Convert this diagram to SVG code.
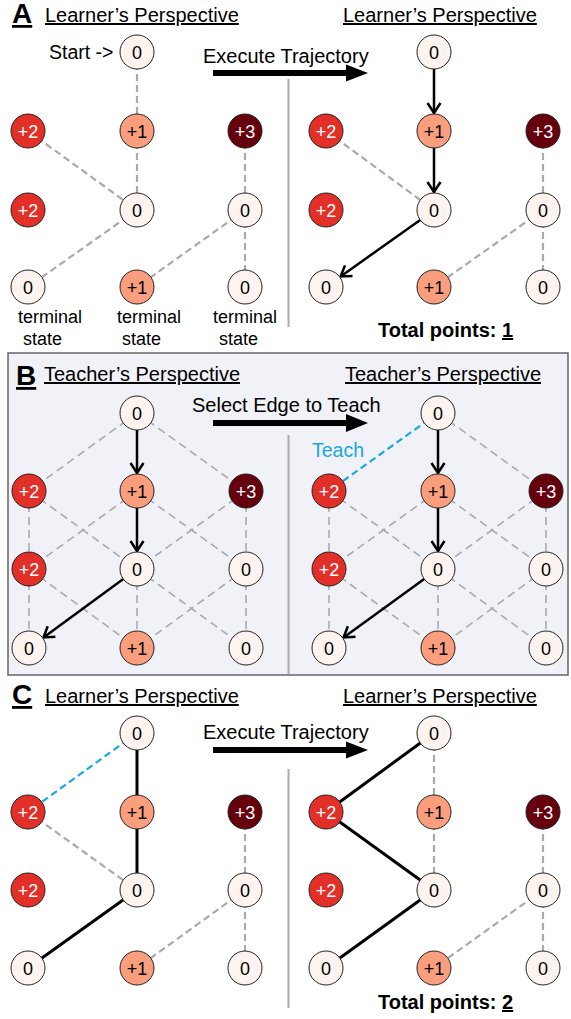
<svg xmlns="http://www.w3.org/2000/svg" width="571" height="1019" viewBox="0 0 571 1019">
<style>
.n0{fill:#fef4ef;stroke:#222;stroke-width:1}
.n1{fill:#fb9e7e;stroke:#222;stroke-width:1}
.n2{fill:#e22f28;stroke:#222;stroke-width:1}
.n3{fill:#67000d;stroke:#222;stroke-width:1}
.t{font-family:"Liberation Sans",Arial,sans-serif;font-size:18px;text-anchor:middle;fill:#000}
.w{font-family:"Liberation Sans",Arial,sans-serif;font-size:18px;text-anchor:middle;fill:#fff}
.hd{font-family:"Liberation Sans",Arial,sans-serif;font-size:20px;fill:#000;text-decoration:underline}
.let{font-family:"Liberation Sans",Arial,sans-serif;font-size:28px;font-weight:bold;fill:#000;text-decoration:underline}
.lbl{font-family:"Liberation Sans",Arial,sans-serif;font-size:20px;fill:#000}
.sm{font-family:"Liberation Sans",Arial,sans-serif;font-size:18px;fill:#000}
.tot{font-family:"Liberation Sans",Arial,sans-serif;font-size:20px;font-weight:bold;fill:#000}
.dg{stroke:#aaa;stroke-width:2.2;stroke-dasharray:7 4;fill:none}
.db{stroke:#aaa;stroke-width:1.6;stroke-dasharray:8 5;fill:none}
.bl{stroke:#1ba8e0;stroke-width:2.2;stroke-dasharray:7 4;fill:none}
.sl{stroke:#000;stroke-width:3;fill:none}
.ar{stroke:#000;stroke-width:2.5;fill:none;marker-end:url(#ah)}
.dv{stroke:#aaa;stroke-width:2;fill:none}
</style>
<defs>
<marker id="ah" markerUnits="userSpaceOnUse" markerWidth="16" markerHeight="18" viewBox="-13 -9 16 18" refX="0" refY="0" orient="auto">
<path d="M-10,-6.5 L0,0 L-10,6.5" fill="none" stroke="#000" stroke-width="2.5"/>
</marker>
</defs>

<rect id="panelB-box" x="8" y="353" width="560" height="322" fill="#f0f2f7" stroke="#666" stroke-width="1.5"/>

<!-- titles and labels -->
<g id="labels">
<text class="let" x="12" y="23">A</text>
<text class="hd" x="45" y="22">Learner’s Perspective</text>
<text class="hd" x="343" y="22">Learner’s Perspective</text>
<text class="lbl" x="49" y="59" style="font-size:19.5px">Start -&gt;</text>
<text class="lbl" x="203" y="63">Execute Trajectory</text>
<text class="sm" x="18" y="323">terminal</text>
<text class="sm" x="23" y="345">state</text>
<text class="sm" x="117" y="323">terminal</text>
<text class="sm" x="122" y="345">state</text>
<text class="sm" x="213" y="323">terminal</text>
<text class="sm" x="219" y="345">state</text>
<text class="tot" x="378" y="337">Total points: <tspan style="text-decoration:underline">1</tspan></text>

<text class="let" x="16" y="385">B</text>
<text class="hd" x="44" y="381">Teacher’s Perspective</text>
<text class="hd" x="345" y="381">Teacher’s Perspective</text>
<text class="lbl" x="192" y="412">Select Edge to Teach</text>
<text class="lbl" x="312" y="457" style="fill:#1ba8e0;font-size:19.5px">Teach</text>

<text class="let" x="12" y="704">C</text>
<text class="hd" x="45" y="703">Learner’s Perspective</text>
<text class="hd" x="343" y="703">Learner’s Perspective</text>
<text class="lbl" x="203" y="739">Execute Trajectory</text>
<text class="tot" x="378" y="1009">Total points: <tspan style="text-decoration:underline">2</tspan></text>
</g>

<g id="big-arrows">
<rect x="213" y="70" width="137" height="6" fill="#000"/>
<polygon points="346,64.5 368,73 346,81.5" fill="#000"/>
<rect x="213" y="420" width="137" height="6" fill="#000"/>
<polygon points="346,414 368,423 346,432" fill="#000"/>
<rect x="213" y="747" width="137" height="6" fill="#000"/>
<polygon points="346,741.5 368,750 346,758.5" fill="#000"/>
</g>

<g id="dividers">
<line class="dv" x1="288.5" y1="79" x2="288.5" y2="327"/>
<line class="dv" x1="288.5" y1="435" x2="288.5" y2="674"/>
<line class="dv" x1="288.5" y1="769" x2="288.5" y2="1008"/>
</g>

<g id="connectors">
<!-- A left -->
<line class="dg" x1="137" y1="52" x2="137" y2="131"/>
<line class="dg" x1="28" y1="131" x2="137" y2="210"/>
<line class="dg" x1="137" y1="131" x2="137" y2="210"/>
<line class="dg" x1="245" y1="131" x2="245" y2="210"/>
<line class="dg" x1="137" y1="210" x2="28" y2="287"/>
<line class="dg" x1="245" y1="210" x2="137" y2="287"/>
<line class="dg" x1="245" y1="210" x2="245" y2="287"/>
<!-- A right -->
<line class="dg" x1="326" y1="131" x2="434" y2="210"/>
<line class="dg" x1="543" y1="131" x2="543" y2="210"/>
<line class="dg" x1="543" y1="210" x2="434" y2="287"/>
<line class="dg" x1="543" y1="210" x2="543" y2="287"/>
<line class="ar" x1="434" y1="69" x2="434" y2="113"/>
<line class="ar" x1="434" y1="148" x2="434" y2="192"/>
<line class="ar" x1="420.2" y1="219.9" x2="340.6" y2="276.5"/>
<!-- B left -->
<line class="db" x1="137" y1="413" x2="29" y2="491"/>
<line class="db" x1="137" y1="413" x2="246" y2="491"/>
<line class="db" x1="29" y1="491" x2="29" y2="569"/>
<line class="db" x1="29" y1="491" x2="137" y2="569"/>
<line class="db" x1="137" y1="491" x2="29" y2="569"/>
<line class="db" x1="137" y1="491" x2="246" y2="569"/>
<line class="db" x1="246" y1="491" x2="137" y2="569"/>
<line class="db" x1="246" y1="491" x2="246" y2="569"/>
<line class="db" x1="29" y1="569" x2="29" y2="648"/>
<line class="db" x1="29" y1="569" x2="137" y2="648"/>
<line class="db" x1="137" y1="569" x2="137" y2="648"/>
<line class="db" x1="137" y1="569" x2="246" y2="648"/>
<line class="db" x1="246" y1="569" x2="137" y2="648"/>
<line class="db" x1="246" y1="569" x2="246" y2="648"/>
<line class="ar" x1="137" y1="430" x2="137" y2="473"/>
<line class="ar" x1="137" y1="508" x2="137" y2="551"/>
<line class="ar" x1="123.3" y1="579" x2="43.5" y2="637.4"/>
<!-- B right -->
<line class="bl" x1="438" y1="413" x2="329" y2="491"/>
<line class="db" x1="438" y1="413" x2="546" y2="491"/>
<line class="db" x1="329" y1="491" x2="329" y2="569"/>
<line class="db" x1="329" y1="491" x2="438" y2="569"/>
<line class="db" x1="438" y1="491" x2="329" y2="569"/>
<line class="db" x1="438" y1="491" x2="546" y2="569"/>
<line class="db" x1="546" y1="491" x2="438" y2="569"/>
<line class="db" x1="546" y1="491" x2="546" y2="569"/>
<line class="db" x1="329" y1="569" x2="329" y2="648"/>
<line class="db" x1="329" y1="569" x2="438" y2="648"/>
<line class="db" x1="438" y1="569" x2="438" y2="648"/>
<line class="db" x1="438" y1="569" x2="546" y2="648"/>
<line class="db" x1="546" y1="569" x2="438" y2="648"/>
<line class="db" x1="546" y1="569" x2="546" y2="648"/>
<line class="ar" x1="438" y1="430" x2="438" y2="473"/>
<line class="ar" x1="438" y1="508" x2="438" y2="551"/>
<line class="ar" x1="424.2" y1="579" x2="343.6" y2="637.4"/>
<!-- C left -->
<line class="bl" x1="137" y1="733" x2="28" y2="812"/>
<line class="dg" x1="28" y1="812" x2="137" y2="890"/>
<line class="dg" x1="245" y1="812" x2="245" y2="890"/>
<line class="dg" x1="245" y1="890" x2="137" y2="968"/>
<line class="dg" x1="245" y1="890" x2="245" y2="968"/>
<line class="sl" x1="137" y1="733" x2="137" y2="812"/>
<line class="sl" x1="137" y1="812" x2="137" y2="890"/>
<line class="sl" x1="137" y1="890" x2="28" y2="968"/>
<!-- C right -->
<line class="dg" x1="434" y1="733" x2="434" y2="812"/>
<line class="dg" x1="434" y1="812" x2="434" y2="890"/>
<line class="dg" x1="543" y1="812" x2="543" y2="890"/>
<line class="dg" x1="543" y1="890" x2="434" y2="968"/>
<line class="dg" x1="543" y1="890" x2="543" y2="968"/>
<line class="sl" x1="434" y1="733" x2="326" y2="812"/>
<line class="sl" x1="326" y1="812" x2="434" y2="890"/>
<line class="sl" x1="434" y1="890" x2="326" y2="968"/>
</g>

<!-- Panel A left nodes -->
<g id="AL-s"><circle class="n0" cx="137" cy="52" r="17"/><text class="t" x="137" y="58.5">0</text></g>
<g id="AL-r2a"><circle class="n2" cx="28" cy="131" r="17"/><text class="w" x="28" y="137.5">+2</text></g>
<g id="AL-r2b"><circle class="n1" cx="137" cy="131" r="17"/><text class="t" x="137" y="137.5">+1</text></g>
<g id="AL-r2c"><circle class="n3" cx="245" cy="131" r="17"/><text class="w" x="245" y="137.5">+3</text></g>
<g id="AL-r3a"><circle class="n2" cx="28" cy="210" r="17"/><text class="w" x="28" y="216.5">+2</text></g>
<g id="AL-r3b"><circle class="n0" cx="137" cy="210" r="17"/><text class="t" x="137" y="216.5">0</text></g>
<g id="AL-r3c"><circle class="n0" cx="245" cy="210" r="17"/><text class="t" x="245" y="216.5">0</text></g>
<g id="AL-r4a"><circle class="n0" cx="28" cy="287" r="17"/><text class="t" x="28" y="293.5">0</text></g>
<g id="AL-r4b"><circle class="n1" cx="137" cy="287" r="17"/><text class="t" x="137" y="293.5">+1</text></g>
<g id="AL-r4c"><circle class="n0" cx="245" cy="287" r="17"/><text class="t" x="245" y="293.5">0</text></g>

<!-- Panel A right nodes -->
<g id="AR-s"><circle class="n0" cx="434" cy="52" r="17"/><text class="t" x="434" y="58.5">0</text></g>
<g id="AR-r2a"><circle class="n2" cx="326" cy="131" r="17"/><text class="w" x="326" y="137.5">+2</text></g>
<g id="AR-r2b"><circle class="n1" cx="434" cy="131" r="17"/><text class="t" x="434" y="137.5">+1</text></g>
<g id="AR-r2c"><circle class="n3" cx="543" cy="131" r="17"/><text class="w" x="543" y="137.5">+3</text></g>
<g id="AR-r3a"><circle class="n2" cx="326" cy="210" r="17"/><text class="w" x="326" y="216.5">+2</text></g>
<g id="AR-r3b"><circle class="n0" cx="434" cy="210" r="17"/><text class="t" x="434" y="216.5">0</text></g>
<g id="AR-r3c"><circle class="n0" cx="543" cy="210" r="17"/><text class="t" x="543" y="216.5">0</text></g>
<g id="AR-r4a"><circle class="n0" cx="326" cy="287" r="17"/><text class="t" x="326" y="293.5">0</text></g>
<g id="AR-r4b"><circle class="n1" cx="434" cy="287" r="17"/><text class="t" x="434" y="293.5">+1</text></g>
<g id="AR-r4c"><circle class="n0" cx="543" cy="287" r="17"/><text class="t" x="543" y="293.5">0</text></g>

<!-- Panel B left nodes -->
<g id="BL-s"><circle class="n0" cx="137" cy="413" r="17"/><text class="t" x="137" y="419.5">0</text></g>
<g id="BL-r2a"><circle class="n2" cx="29" cy="491" r="17"/><text class="w" x="29" y="497.5">+2</text></g>
<g id="BL-r2b"><circle class="n1" cx="137" cy="491" r="17"/><text class="t" x="137" y="497.5">+1</text></g>
<g id="BL-r2c"><circle class="n3" cx="246" cy="491" r="17"/><text class="w" x="246" y="497.5">+3</text></g>
<g id="BL-r3a"><circle class="n2" cx="29" cy="569" r="17"/><text class="w" x="29" y="575.5">+2</text></g>
<g id="BL-r3b"><circle class="n0" cx="137" cy="569" r="17"/><text class="t" x="137" y="575.5">0</text></g>
<g id="BL-r3c"><circle class="n0" cx="246" cy="569" r="17"/><text class="t" x="246" y="575.5">0</text></g>
<g id="BL-r4a"><circle class="n0" cx="29" cy="648" r="17"/><text class="t" x="29" y="654.5">0</text></g>
<g id="BL-r4b"><circle class="n1" cx="137" cy="648" r="17"/><text class="t" x="137" y="654.5">+1</text></g>
<g id="BL-r4c"><circle class="n0" cx="246" cy="648" r="17"/><text class="t" x="246" y="654.5">0</text></g>

<!-- Panel B right nodes -->
<g id="BR-s"><circle class="n0" cx="438" cy="413" r="17"/><text class="t" x="438" y="419.5">0</text></g>
<g id="BR-r2a"><circle class="n2" cx="329" cy="491" r="17"/><text class="w" x="329" y="497.5">+2</text></g>
<g id="BR-r2b"><circle class="n1" cx="438" cy="491" r="17"/><text class="t" x="438" y="497.5">+1</text></g>
<g id="BR-r2c"><circle class="n3" cx="546" cy="491" r="17"/><text class="w" x="546" y="497.5">+3</text></g>
<g id="BR-r3a"><circle class="n2" cx="329" cy="569" r="17"/><text class="w" x="329" y="575.5">+2</text></g>
<g id="BR-r3b"><circle class="n0" cx="438" cy="569" r="17"/><text class="t" x="438" y="575.5">0</text></g>
<g id="BR-r3c"><circle class="n0" cx="546" cy="569" r="17"/><text class="t" x="546" y="575.5">0</text></g>
<g id="BR-r4a"><circle class="n0" cx="329" cy="648" r="17"/><text class="t" x="329" y="654.5">0</text></g>
<g id="BR-r4b"><circle class="n1" cx="438" cy="648" r="17"/><text class="t" x="438" y="654.5">+1</text></g>
<g id="BR-r4c"><circle class="n0" cx="546" cy="648" r="17"/><text class="t" x="546" y="654.5">0</text></g>

<!-- Panel C left nodes -->
<g id="CL-s"><circle class="n0" cx="137" cy="733" r="17"/><text class="t" x="137" y="739.5">0</text></g>
<g id="CL-r2a"><circle class="n2" cx="28" cy="812" r="17"/><text class="w" x="28" y="818.5">+2</text></g>
<g id="CL-r2b"><circle class="n1" cx="137" cy="812" r="17"/><text class="t" x="137" y="818.5">+1</text></g>
<g id="CL-r2c"><circle class="n3" cx="245" cy="812" r="17"/><text class="w" x="245" y="818.5">+3</text></g>
<g id="CL-r3a"><circle class="n2" cx="28" cy="890" r="17"/><text class="w" x="28" y="896.5">+2</text></g>
<g id="CL-r3b"><circle class="n0" cx="137" cy="890" r="17"/><text class="t" x="137" y="896.5">0</text></g>
<g id="CL-r3c"><circle class="n0" cx="245" cy="890" r="17"/><text class="t" x="245" y="896.5">0</text></g>
<g id="CL-r4a"><circle class="n0" cx="28" cy="968" r="17"/><text class="t" x="28" y="974.5">0</text></g>
<g id="CL-r4b"><circle class="n1" cx="137" cy="968" r="17"/><text class="t" x="137" y="974.5">+1</text></g>
<g id="CL-r4c"><circle class="n0" cx="245" cy="968" r="17"/><text class="t" x="245" y="974.5">0</text></g>

<!-- Panel C right nodes -->
<g id="CR-s"><circle class="n0" cx="434" cy="733" r="17"/><text class="t" x="434" y="739.5">0</text></g>
<g id="CR-r2a"><circle class="n2" cx="326" cy="812" r="17"/><text class="w" x="326" y="818.5">+2</text></g>
<g id="CR-r2b"><circle class="n1" cx="434" cy="812" r="17"/><text class="t" x="434" y="818.5">+1</text></g>
<g id="CR-r2c"><circle class="n3" cx="543" cy="812" r="17"/><text class="w" x="543" y="818.5">+3</text></g>
<g id="CR-r3a"><circle class="n2" cx="326" cy="890" r="17"/><text class="w" x="326" y="896.5">+2</text></g>
<g id="CR-r3b"><circle class="n0" cx="434" cy="890" r="17"/><text class="t" x="434" y="896.5">0</text></g>
<g id="CR-r3c"><circle class="n0" cx="543" cy="890" r="17"/><text class="t" x="543" y="896.5">0</text></g>
<g id="CR-r4a"><circle class="n0" cx="326" cy="968" r="17"/><text class="t" x="326" y="974.5">0</text></g>
<g id="CR-r4b"><circle class="n1" cx="434" cy="968" r="17"/><text class="t" x="434" y="974.5">+1</text></g>
<g id="CR-r4c"><circle class="n0" cx="543" cy="968" r="17"/><text class="t" x="543" y="974.5">0</text></g>
</svg>
